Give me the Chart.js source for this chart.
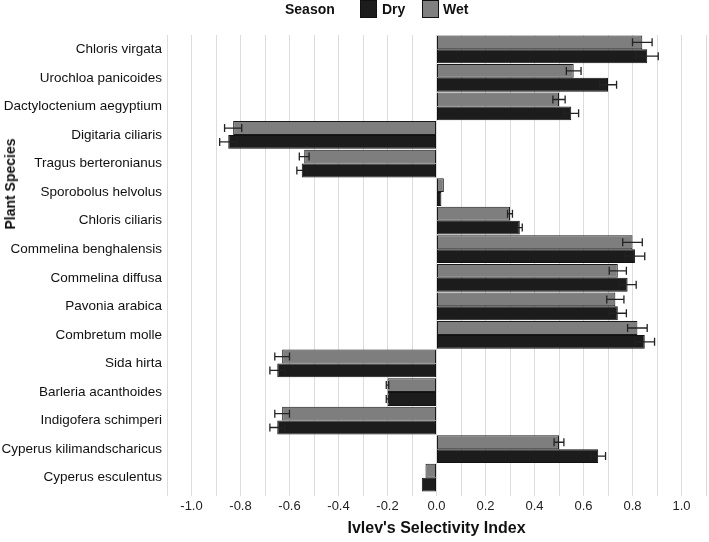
<!DOCTYPE html>
<html>
<head>
<meta charset="utf-8">
<script src="https://cdn.jsdelivr.net/npm/chart.js@4"></script>
<style>
  html, body { margin: 0; padding: 0; background: #fff; }
  #wrap { position: relative; width: 709px; height: 542px; }
  #legend { position: absolute; top: 0; left: 0; width: 709px; height: 22px; font-family: "Liberation Sans", Arial, sans-serif; font-size: 14px; font-weight: bold; color: #111; }
  #legend span { position: absolute; top: 1px; }
  #legend .box { position: absolute; top: 0px; width: 15px; height: 16px; border: 1px solid #111; }
  #ytitle { position: absolute; left: 10px; top: 184px; transform: translate(-50%, -50%) rotate(-90deg); white-space: nowrap; font-family: "Liberation Sans", Arial, sans-serif; font-size: 14px; font-weight: bold; color: #111; }
</style>
</head>
<body>
<div id="wrap">
  <canvas id="c" width="709" height="542"></canvas>
  <div id="legend">
    <span style="left:285px">Season</span>
    <div class="box" style="left:360px; background:#1c1c1c"></div>
    <span style="left:382px">Dry</span>
    <div class="box" style="left:422px; background:#808080"></div>
    <span style="left:443px">Wet</span>
  </div>
  <div id="ytitle">Plant Species</div>
</div>
<script>
const categories = [
  "Chloris virgata", "Urochloa panicoides", "Dactyloctenium aegyptium", "Digitaria ciliaris",
  "Tragus berteronianus", "Sporobolus helvolus", "Chloris ciliaris", "Commelina benghalensis",
  "Commelina diffusa", "Pavonia arabica", "Combretum molle", "Sida hirta",
  "Barleria acanthoides", "Indigofera schimperi", "Cyperus kilimandscharicus", "Cyperus esculentus"
];
const wetValues = [0.84, 0.56, 0.50, -0.83, -0.54, 0.03, 0.30, 0.80, 0.74, 0.73, 0.82, -0.63, -0.20, -0.63, 0.50, -0.045];
const dryValues = [0.86, 0.70, 0.55, -0.85, -0.55, 0.02, 0.34, 0.81, 0.78, 0.74, 0.85, -0.65, -0.20, -0.65, 0.66, -0.06];
const wetErrors = [0.04, 0.03, 0.025, 0.035, 0.02, 0, 0.01, 0.04, 0.035, 0.035, 0.04, 0.03, 0.005, 0.03, 0.02, 0];
const dryErrors = [0.045, 0.035, 0.03, 0.035, 0.02, 0, 0.01, 0.04, 0.035, 0.035, 0.04, 0.03, 0.005, 0.03, 0.03, 0];
const xTickLabels = ["-1.0", "-0.8", "-0.6", "-0.4", "-0.2", "0.0", "0.2", "0.4", "0.6", "0.8", "1.0"];

const errorBarPlugin = {
  id: 'errorBars',
  afterDatasetsDraw(chart) {
    const ctx = chart.ctx;
    const xs = chart.scales.x;
    const errs = [wetErrors, dryErrors];
    ctx.save();
    ctx.strokeStyle = '#222';
    ctx.lineWidth = 1.3;
    chart.data.datasets.forEach((ds, di) => {
      const meta = chart.getDatasetMeta(di);
      meta.data.forEach((bar, i) => {
        const e = errs[di][i];
        if (!e) return;
        const v = ds.data[i];
        const y = bar.y;
        const x1 = xs.getPixelForValue(v - e);
        const x2 = xs.getPixelForValue(v + e);
        ctx.beginPath();
        ctx.moveTo(x1, y); ctx.lineTo(x2, y);
        ctx.moveTo(x1, y - 4); ctx.lineTo(x1, y + 4);
        ctx.moveTo(x2, y - 4); ctx.lineTo(x2, y + 4);
        ctx.stroke();
      });
    });
    ctx.restore();
  }
};

new Chart(document.getElementById('c'), {
  type: 'bar',
  data: {
    labels: categories,
    datasets: [
      { label: 'Wet', data: wetValues, backgroundColor: '#7e7e7e', borderColor: '#1a1a1a', borderWidth: 1, borderSkipped: false },
      { label: 'Dry', data: dryValues, backgroundColor: '#1c1c1c', borderColor: '#111', borderWidth: 1, borderSkipped: false }
    ]
  },
  options: {
    indexAxis: 'y',
    responsive: false,
    animation: false,
    layout: { padding: { top: 35, right: 0, left: 0, bottom: 0 } },
    datasets: { bar: { barPercentage: 1.0, categoryPercentage: 0.97 } },
    plugins: { legend: { display: false }, tooltip: { enabled: false } },
    scales: {
      x: {
        min: -1.1, max: 1.1,
        ticks: {
          stepSize: 0.1,
          autoSkip: false,
          maxRotation: 0,
          color: '#222',
          font: { family: '"Liberation Sans", Arial, sans-serif', size: 13 },
          callback: function(value) {
            const k = Math.round(value * 10);
            if (k % 2 !== 0) return '';
            const idx = (k + 10) / 2;
            return xTickLabels[idx] !== undefined ? xTickLabels[idx] : '';
          }
        },
        grid: {
          color: '#dcdcdc',
          lineWidth: 1,
          drawTicks: true,
          tickLength: 4
        },
        border: { display: false },
        title: {
          display: true,
          text: "Ivlev's Selectivity Index",
          color: '#111',
          font: { family: '"Liberation Sans", Arial, sans-serif', size: 16, weight: 'bold' },
          padding: { top: 9, bottom: 4 }
        },
        afterFit(scale) { scale.height = 50; }
      },
      y: {
        ticks: {
          color: '#111',
          autoSkip: false,
          font: { family: '"Liberation Sans", Arial, sans-serif', size: 13.5 },
          padding: 5
        },
        grid: { display: false, drawTicks: false },
        border: { display: false },
        title: { display: false },
        afterFit(scale) { scale.width = 167; }
      }
    }
  },
  plugins: [errorBarPlugin]
});
</script>
</body>
</html>
